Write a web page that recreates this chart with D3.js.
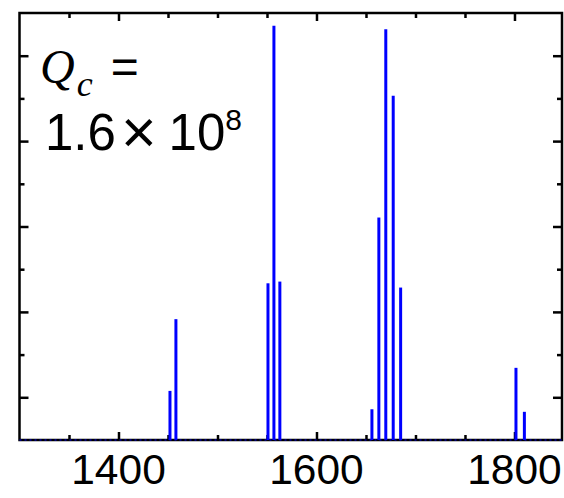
<!DOCTYPE html>
<html>
<head>
<meta charset="utf-8">
<script src="https://cdn.jsdelivr.net/npm/d3@7"></script>
<style>
  body { margin: 0; background: #fff; }
  svg { display: block; }
</style>
</head>
<body>
<div id="chart"></div>
<script>
// peak positions (cm^-1) and relative heights
var peakPos = [1452, 1458, 1551, 1557, 1563, 1656, 1663, 1670, 1677.5, 1685, 1801.5, 1810];
var peakVal = [0.115, 0.283, 0.367, 0.970, 0.371, 0.072, 0.521, 0.962, 0.806, 0.357, 0.169, 0.066];

var xMajor = [1400, 1600, 1800];
var xMinor = [1350, 1450, 1500, 1550, 1650, 1700, 1750];
var xLabels = ["1400", "1600", "1800"];
var yMajor = [0.1, 0.3, 0.5, 0.7, 0.9];
var yMinor = [0.2, 0.4, 0.6, 0.8];

var margin = { top: 13, right: 2, bottom: 58, left: 19.5 };
var width = 564 - margin.left - margin.right,
    height = 498 - margin.top - margin.bottom;

var svg = d3.select("#chart").append("svg")
    .attr("width", 564)
    .attr("height", 498)
    .append("g")
    .attr("transform", "translate(" + margin.left + "," + margin.top + ")");

var x = d3.scaleLinear().domain([1300, 1848]).range([0, width]);
var y = d3.scaleLinear().domain([0, 1]).range([height, 0]);

// ticks all point inward, on all four sides
function tickAxis(axisFn, scale, vals, len) {
    return axisFn(scale).tickValues(vals).tickSize(-len).tickFormat("").tickSizeOuter(0);
}

var frame = svg.append("g").attr("class", "frame");
frame.append("g").attr("transform", "translate(0," + height + ")").call(tickAxis(d3.axisBottom, x, xMajor, 8));
frame.append("g").attr("transform", "translate(0," + height + ")").call(tickAxis(d3.axisBottom, x, xMinor, 5));
frame.append("g").call(tickAxis(d3.axisTop, x, xMajor, 8));
frame.append("g").call(tickAxis(d3.axisTop, x, xMinor, 5));
frame.append("g").call(tickAxis(d3.axisLeft, y, yMajor, 9));
frame.append("g").call(tickAxis(d3.axisLeft, y, yMinor, 5));
frame.append("g").attr("transform", "translate(" + width + ",0)").call(tickAxis(d3.axisRight, y, yMajor, 9));
frame.append("g").attr("transform", "translate(" + width + ",0)").call(tickAxis(d3.axisRight, y, yMinor, 5));

frame.selectAll(".domain").remove();
frame.selectAll(".tick line").attr("stroke", "#000").attr("stroke-width", 2.5);

// box
svg.append("rect")
    .attr("x", 0).attr("y", 0)
    .attr("width", width).attr("height", height)
    .attr("fill", "none")
    .attr("stroke", "#000")
    .attr("stroke-width", 2.5);

// blue dotted zero line
svg.append("line")
    .attr("x1", 0).attr("x2", width)
    .attr("y1", y(0)).attr("y2", y(0))
    .attr("stroke", "#0000ff")
    .attr("stroke-width", 1.2)
    .attr("stroke-dasharray", "2,3");

// stems
svg.selectAll(".stem")
    .data(peakPos)
    .enter()
    .append("line")
    .attr("class", "stem")
    .attr("x1", function (d) { return x(d); })
    .attr("x2", function (d) { return x(d); })
    .attr("y1", y(0))
    .attr("y2", function (d, i) { return y(peakVal[i]); })
    .attr("stroke", "#0000ff")
    .attr("stroke-width", 3);

// x labels
svg.selectAll(".xlab")
    .data(xMajor)
    .enter()
    .append("text")
    .attr("x", function (d) { return x(d); })
    .attr("y", height + 44)
    .attr("text-anchor", "middle")
    .style("font-family", "Liberation Sans, Arial, sans-serif")
    .style("font-size", "42.5px")
    .text(function (d, i) { return xLabels[i]; });

// annotation
var note = svg.append("g").attr("transform", "translate(" + (-margin.left) + "," + (-margin.top) + ")");
var l1 = note.append("text")
    .attr("x", 40).attr("y", 83);
l1.append("tspan")
    .style("font-family", "Liberation Serif, serif")
    .style("font-style", "italic")
    .style("font-size", "48px")
    .text("Q");
l1.append("tspan")
    .attr("dy", 13)
    .attr("dx", 2)
    .style("font-family", "Liberation Serif, serif")
    .style("font-style", "italic")
    .style("font-size", "36px")
    .text("c");
l1.append("tspan")
    .attr("dy", -13)
    .attr("dx", 18)
    .style("font-family", "Liberation Sans, Arial, sans-serif")
    .style("font-size", "48px")
    .text("=");

var l2 = note.append("text")
    .attr("x", 45).attr("y", 150)
    .style("font-family", "Liberation Sans, Arial, sans-serif")
    .style("font-size", "51px");
l2.append("tspan").text("1.6");
l2.append("tspan").attr("dx", 5).attr("dy", 3).style("font-size", "61px").text("\u00d7");
l2.append("tspan").attr("dx", 12).attr("dy", -3).text("10");
l2.append("tspan")
    .attr("dy", -20)
    .style("font-size", "30px")
    .text("8");
</script>
</body>
</html>
